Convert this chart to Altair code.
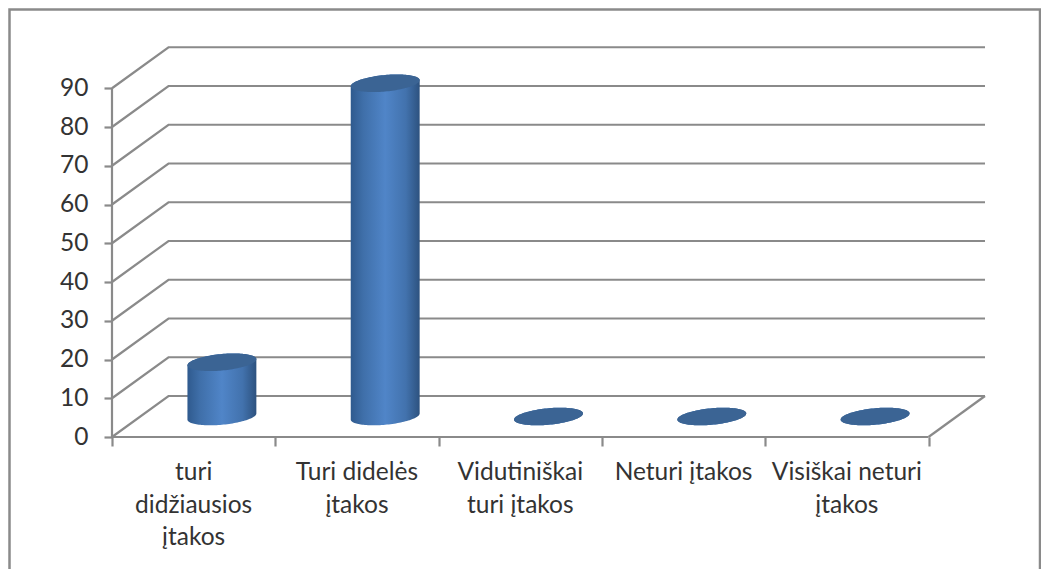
import numpy as np
import pandas as pd
import altair as alt

# ---- values ----
categories = [["turi", "didžiausios", "įtakos"], ["Turi didelės", "įtakos"],
              ["Vidutiniškai", "turi įtakos"], ["Neturi įtakos"], ["Visiškai neturi", "įtakos"]]
values = [14, 86, 0, 0, 0]
y_ticks = list(range(0, 100, 10))
x_ticks = list(range(0, 6))

# ---- scale geometry (pixels per data unit) ----
PW, PH = 875, 390
PX_X, PX_Y = 163.3, 3.875
X_MAX, Y_MAX = PW / PX_X, PH / PX_Y
DX, DY = 56.5 / PX_X, 41 / PX_Y
GRID = "#8a8a8a"
TEXT = "#333333"
FONT = "Lato"
FS = 24.5

xs = alt.Scale(domain=[0, X_MAX], nice=False, zero=False)
ys = alt.Scale(domain=[0, Y_MAX], nice=False, zero=False)
x_axis = alt.Axis(values=x_ticks, labels=False, domain=False, grid=False,
                  tickColor=GRID, tickWidth=2.2, tickSize=9, title=None)
y_axis = alt.Axis(values=y_ticks, domain=False, grid=False, tickColor=GRID, tickWidth=2.2, tickSize=8,
                  labelFontSize=FS, labelFont=FONT, labelColor=TEXT, labelPadding=16, title=None)
X = alt.X("u:Q", scale=xs, axis=x_axis)
Y = alt.Y("v:Q", scale=ys, axis=y_axis)
Y2 = alt.Y2("v2:Q")

# ---- wireframe of the 3-D box ----
rows = []
def path(name, pts):
    for k, (u, v) in enumerate(pts):
        rows.append({"id": name, "k": k, "u": u, "v": v})
path("yaxis", [(0, 0), (0, 90)])
path("front", [(0, 0), (5, 0)])
path("side", [(5, 0), (5 + DX, DY)])
for t in y_ticks:
    path(f"w{t}", [(0, t), (DX, t + DY), (5 + DX, t + DY)])
wire = alt.Chart(pd.DataFrame(rows)).mark_line(color=GRID, strokeWidth=2.2).encode(
    x=X, y=Y, detail="id:N", order="k:Q")

# ---- frame of the picture ----
fu = lambda px: (px - 112) / PX_X
fv = lambda py: (437 - py) / PX_Y
frame_df = pd.DataFrame([
    {"k": 0, "u": fu(9.5), "v": fv(600)}, {"k": 1, "u": fu(9.5), "v": fv(9.5)},
    {"k": 2, "u": fu(1040), "v": fv(9.5)}, {"k": 3, "u": fu(1040), "v": fv(600)}])
frame = alt.Chart(frame_df).mark_line(color=GRID, strokeWidth=2.5, clip=False).encode(
    x=X, y=Y, order="k:Q")

# ---- cylinders ----
A, H, S = 32.3, 8.8, 12.0
def arcs(n=61):
    """Upper and lower edge (pixels from centre) of the sheared end-ellipse."""
    half = np.sqrt(A**2 + S**2)
    X_ = half * np.cos(np.linspace(np.pi, 0, n)) * 0.99999
    k = S / H
    a = k**2 / A**2 + 1 / H**2
    b = -2 * X_ * k / A**2
    c = X_**2 / A**2 - 1
    r = np.sqrt(np.maximum(b**2 - 4 * a * c, 0))
    return X_, (-b + r) / (2 * a), (-b - r) / (2 * a)

ox, up, lo = arcs()
body_rows, cap_rows = [], []
for i, val in enumerate(values):
    cu = i + 0.5 + DX / 2
    cv = DY / 2
    for x_, yu, yl in zip(ox, up, lo):
        u = cu + x_ / PX_X
        body_rows.append({"c": i, "u": u, "v": cv + yl / PX_Y, "v2": cv + val + yu / PX_Y})
        cap_rows.append({"c": i, "u": u, "v": cv + val + yl / PX_Y, "v2": cv + val + yu / PX_Y})

gradient = alt.Gradient(gradient="linear", x1=0, x2=1, y1=0, y2=0, stops=[
    alt.GradientStop(color="#2f5a8e", offset=0), alt.GradientStop(color="#3f6fa9", offset=0.18),
    alt.GradientStop(color="#5085c8", offset=0.5), alt.GradientStop(color="#4272ad", offset=0.8),
    alt.GradientStop(color="#2d527f", offset=1)])
body = alt.Chart(pd.DataFrame(body_rows)).mark_area(color=gradient, interpolate="linear").encode(
    x=X, y=Y, y2=Y2, detail="c:N")
cap = alt.Chart(pd.DataFrame(cap_rows)).mark_area(color="#3b6494", interpolate="linear").encode(
    x=X, y=Y, y2=Y2, detail="c:N")

# ---- category labels ----
label_df = pd.DataFrame({"u": [i + 0.5 for i in range(len(categories))],
                         "v": [0.0] * len(categories), "lines": categories})
labels = alt.Chart(label_df).mark_text(font=FONT, fontSize=FS, color=TEXT, align="center",
                                       baseline="alphabetic", dy=43, lineHeight=32.7).encode(
    x=X, y=Y, text="lines:N")

chart = alt.layer(frame, wire, body, cap, labels).properties(
    width=PW, height=PH,
    background="white",
    autosize=alt.AutoSizeParams(type="none"),
    padding={"left": 104, "top": 39, "right": 54, "bottom": 132},
).configure_view(stroke=None)

chart.save("out.html", embed_options={"renderer": "svg", "actions": False})
